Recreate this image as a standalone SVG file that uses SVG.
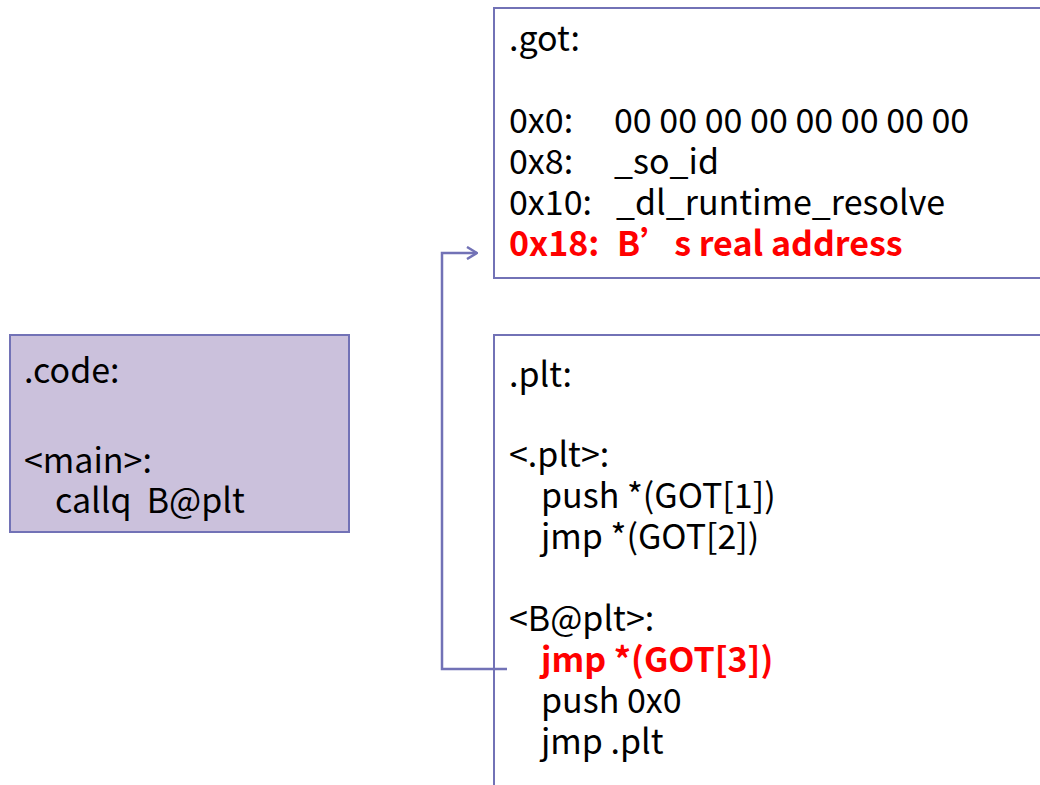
<svg xmlns="http://www.w3.org/2000/svg" width="1040" height="785" viewBox="0 0 1040 785">
  <style>
    .box { fill: #ffffff; stroke: #7272b6; stroke-width: 2; }
    .code { fill: #cbc1dc; stroke: #7272b6; stroke-width: 2; }
    .t { font-family: "Noto Sans CJK SC", "Noto Sans", sans-serif; font-size: 34px; fill: #000000; }
    .hl { fill: #ff0000; font-weight: bold; }
    .wire { fill: none; stroke: #7272b6; stroke-width: 2.5; }
  </style>
  <defs>
    <marker id="open-arrow" viewBox="0 0 12 14" refX="11" refY="7" markerWidth="12" markerHeight="14" markerUnits="userSpaceOnUse" orient="auto">
      <path d="M1,1 L11,7 L1,13" fill="none" stroke="#7272b6" stroke-width="2.5"/>
    </marker>
  </defs>
  <rect width="1040" height="785" fill="#ffffff"/>

  <!-- global offset table -->
  <g id="got">
    <rect class="box" x="494" y="8" width="560" height="270"/>
    <text class="t" x="509" y="51">.got:</text>
    <text class="t" x="509" y="133">0x0:</text>
    <text class="t" x="614" y="133">00 00 00 00 00 00 00 00</text>
    <text class="t" x="509" y="174">0x8:</text>
    <text class="t" x="614" y="174">_so_id</text>
    <text class="t" x="509" y="215">0x10:</text>
    <text class="t" x="616" y="215">_dl_runtime_resolve</text>
    <text class="t hl" x="509" y="256">0x18:</text>
    <text class="t hl" x="617" y="256">B’s real address</text>
  </g>

  <!-- caller code -->
  <g id="code">
    <rect class="code" x="10" y="335" width="339" height="197"/>
    <text class="t" x="24" y="383">.code:</text>
    <text class="t" x="24" y="473">&lt;main&gt;:</text>
    <text class="t" x="55" y="513" xml:space="preserve">callq  B@plt</text>
  </g>

  <!-- procedure linkage table -->
  <g id="plt">
    <rect class="box" x="494" y="335" width="560" height="470"/>
    <text class="t" x="509" y="387">.plt:</text>
    <text class="t" x="509" y="467">&lt;.plt&gt;:</text>
    <text class="t" x="541" y="508">push *(GOT[1])</text>
    <text class="t" x="541" y="549">jmp *(GOT[2])</text>
    <text class="t" x="509" y="631">&lt;B@plt&gt;:</text>
    <text class="t hl" x="541" y="672">jmp *(GOT[3])</text>
    <text class="t" x="541" y="713">push 0x0</text>
    <text class="t" x="541" y="754">jmp .plt</text>
  </g>

  <g id="connectors">
    <path class="wire" d="M507,669 H442 V253 H477" marker-end="url(#open-arrow)"/>
  </g>
</svg>
